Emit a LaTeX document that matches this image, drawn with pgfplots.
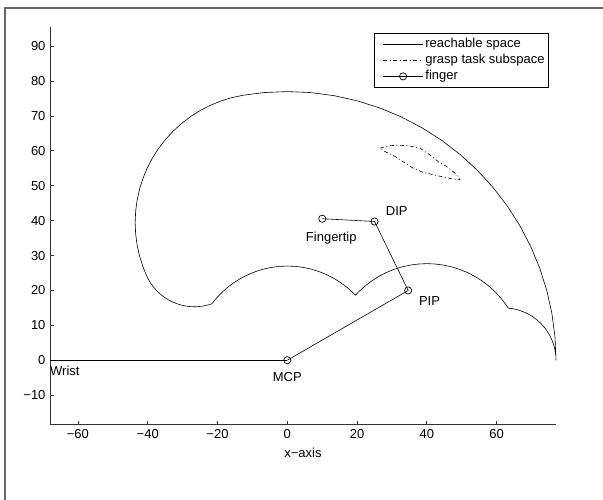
\documentclass[border=0pt]{standalone}
\usepackage{fontspec}
\setmainfont{Liberation Sans}
\usepackage{pgfplots}
\pgfplotsset{compat=1.18}
\usetikzlibrary{calc}
\newcommand{\ff}{\fontsize{13}{15.6}\selectfont}
\begin{document}
\ff
\begin{tikzpicture}[font=\ff]
\begin{axis}[
  x=3.489pt, y=3.489pt,
  xmin=-68, xmax=77, ymin=-18.5, ymax=95.5,
  axis x line*=bottom, axis y line*=left,
  axis line style={-, black!80, line width=0.9pt},
  tick align=inside,
  major tick length=3.5pt,
  tick style={black!80, line width=0.8pt},
  xtick={-60,-40,-20,0,20,40,60},
  xticklabels={−60,−40,−20,0,20,40,60},
  ytick={-10,0,10,20,30,40,50,60,70,80,90},
  yticklabels={−10,0,10,20,30,40,50,60,70,80,90},
  ticklabel style={font=\ff},
  xlabel={x−axis},
  xlabel style={font=\ff, yshift=-1pt},
  clip=false,
  legend image code/.code={\path (0pt,0pt); \draw[mark repeat=2,mark phase=2,#1] plot coordinates {(6pt,0pt) (26pt,0pt) (46pt,0pt)};},
  legend style={at={(1,1)}, anchor=north east, xshift=-7pt, yshift=-6pt,
    draw=black, line width=0.7pt, inner xsep=2pt, inner ysep=2.5pt,
    font=\ff, cells={anchor=west},
    nodes={inner xsep=2pt, inner ysep=2pt, text height=9.5pt, text depth=2.7pt}},
]
\coordinate (bl) at (rel axis cs:0,0);
\coordinate (tr) at (rel axis cs:1,1);

% wrist segment
\addplot[black, line width=0.6pt, forget plot] coordinates {(-68,0) (0,0)};

% reachable space
\addplot[black, line width=0.6pt] coordinates {
(77,0) (76.71,6.71) (75.83,13.37) (74.38,19.93) (72.36,26.34) (69.79,32.54)
(66.68,38.5) (63.07,44.17) (58.99,49.49) (54.45,54.45) (49.49,58.99) (44.17,63.07)
(38.5,66.68) (32.54,69.79) (26.34,72.36) (19.93,74.38) (13.37,75.83) (6.71,76.71)
(0,77) (-6.71,76.71) (-12.71,75.94)
(-16.18,75.19) (-19.25,74.22) (-22.24,72.98) (-25.10,71.49) (-27.82,69.76)
(-30.38,67.79) (-32.76,65.61) (-34.94,63.23) (-36.91,60.67) (-38.64,57.95)
(-40.13,55.09) (-41.37,52.10) (-42.34,49.03) (-43.04,45.88) (-43.46,42.67)
(-43.60,39.45) (-43.46,36.23) (-43.04,33.02) (-42.34,29.87) (-41.37,26.80) (-40.27,24.11)
(-39.61,22.83) (-38.91,21.73) (-38.11,20.69) (-37.23,19.72) (-36.26,18.84)
(-35.22,18.04) (-34.12,17.34) (-32.96,16.74) (-31.75,16.23) (-30.50,15.84)
(-29.23,15.56) (-27.93,15.39) (-26.62,15.33) (-25.32,15.39) (-24.02,15.56)
(-22.74,15.84) (-21.61,16.19)
(-20.68,17.36) (-19.09,19.09) (-17.36,20.68) (-15.49,22.12) (-13.5,23.38)
(-11.41,24.47) (-9.23,25.37) (-6.99,26.08) (-4.69,26.59) (-2.35,26.90) (0,27)
(2.35,26.90) (4.69,26.59) (6.99,26.08) (9.23,25.37) (11.41,24.47) (13.5,23.38)
(15.49,22.12) (17.36,20.68) (19.09,19.09) (19.53,18.65)
(20.42,19.58) (22.20,21.21) (24.12,22.68) (26.15,23.98) (28.30,25.10) (30.53,26.02)
(32.83,26.75) (35.19,27.27) (37.59,27.58) (40,27.69) (42.41,27.58) (44.81,27.27)
(47.17,26.75) (49.47,26.02) (51.70,25.10) (53.85,23.98) (55.88,22.68) (57.80,21.21)
(59.58,19.58) (61.21,17.80) (62.68,15.88) (63.31,14.95)
(64.60,14.77) (65.88,14.49) (67.13,14.10) (68.34,13.59) (69.5,12.99) (70.60,12.29)
(71.64,11.49) (72.61,10.61) (73.49,9.64) (74.29,8.60) (74.99,7.5) (75.59,6.34)
(76.10,5.13) (76.49,3.88) (76.77,2.60) (76.94,1.31) (77,0)
};
\addlegendentry{reachable space}

% grasp task subspace
\addplot[black, line width=0.6pt, dash pattern=on 4pt off 2.5pt on 1pt off 2.5pt] coordinates {
(26.6,60.8) (29.4,61.5) (32.0,61.6) (34.7,61.5) (38.0,60.8) (40.9,58.8) (43.3,56.9)
(45.7,55.5) (48.1,53.6) (49.5,51.7) (47.1,52.0) (44.3,52.6) (40.9,53.4) (39.0,53.8)
(36.1,55.0) (33.2,56.9) (30.9,58.4) (28.0,59.8) (26.6,60.8)
};
\addlegendentry{grasp task subspace}

% finger
\addplot[black, line width=0.6pt, mark=o, mark size=3.6pt, mark options={solid, line width=0.7pt}] coordinates {
(0,0) (34.64,20.0) (25.0,39.77) (10.02,40.56)
};
\addlegendentry{finger}

\node[anchor=north west, inner sep=0pt] at (axis cs:-68,-1.6) {Wrist};
\node[anchor=north, inner sep=0pt] at (axis cs:0,-3.55) {MCP};
\node[anchor=west, inner sep=0pt] at (axis cs:37.7,16.9) {PIP};
\node[anchor=west, inner sep=0pt] at (axis cs:28.2,42.7) {DIP};
\node[anchor=north, inner sep=0pt] at (axis cs:12.6,36.9) {Fingertip};
\end{axis}
\draw[black!60, line width=1.2pt] ($(bl)+(-45pt,-90pt)$) |- ($(tr)+(60pt,19pt)$);
\pgfresetboundingbox
\path[use as bounding box] ($(bl)+(-50pt,-75pt)$) rectangle ($(tr)+(47pt,27pt)$);
\end{tikzpicture}
\end{document}
